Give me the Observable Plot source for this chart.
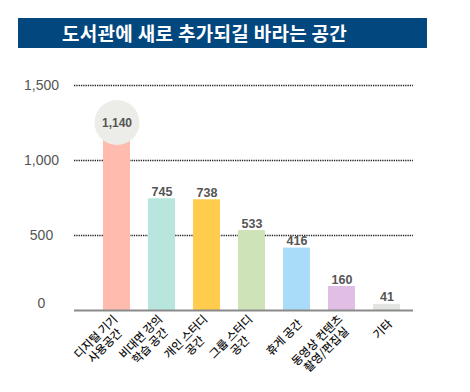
<!DOCTYPE html>
<html><head><meta charset="utf-8">
<script src="https://cdn.jsdelivr.net/npm/d3@7"></script>
<script src="https://cdn.jsdelivr.net/npm/@observablehq/plot@0.6"></script>
<style>
body{margin:0;background:#fff;width:470px;height:392px;overflow:hidden;font-family:"Liberation Sans",Arial,"Noto Sans CJK KR",sans-serif;}
#title{margin:18px 0 0 18px;width:409px;height:30px;background:#03477f;color:#fff;font-weight:bold;font-size:19px;font-family:"Noto Sans CJK KR",sans-serif;line-height:30px;padding-left:44px;box-sizing:border-box;letter-spacing:0.3px;white-space:nowrap;overflow:hidden}
#chart svg{display:block}
</style></head><body>
<div id="title">도서관에 새로 추가되길 바라는 공간</div>
<div id="chart"></div>
<script>
const categories = ["디지털 기기\n사용공간", "비대면 강의\n학습 공간", "개인 스터디\n공간", "그룹 스터디\n공간", "휴게 공간", "동영상 컨텐츠\n촬영/편집실", "기타"];
const values = [1140, 745, 738, 533, 416, 160, 41];
const colors = ["#ffbcae", "#b8e6df", "#ffcc4d", "#cfe3b8", "#a8dcf8", "#e1bfe5", "#e2e5e1"];
const yTicks = [0, 500, 1000, 1500];
const highlight = "디지털 기기\n사용공간";

const data = categories.map((c, i) => ({cat: c, value: values[i], color: colors[i]}));
const fmt = d3.format(",");
const KR = "'Noto Sans CJK KR', sans-serif";
const NUM = "'Liberation Sans', Arial, sans-serif";

const ctx = document.createElement("canvas").getContext("2d");
ctx.font = "500 11.5px 'Noto Sans CJK KR'";
const lineWidth = s => Math.max(...s.split("\n").map(l => ctx.measureText(l).width));

const labelMarks = data.map(d => {
  const w = lineWidth(d.cat);
  return Plot.text([d], {
    x: "cat", y: () => 0, text: "cat", rotate: -45,
    textAnchor: "middle", lineAnchor: "middle", lineHeight: 1.12,
    fontSize: 11.5, fontWeight: 500, fontFamily: KR, fill: "#111",
    dx: 3 - 0.354 * w, dy: 11 + 0.354 * w
  });
});

const chart = Plot.plot({
  width: 470, height: 344,
  marginLeft: 74, marginRight: 57, marginTop: 37, marginBottom: 82,
  x: {domain: categories, range: [91, 411.6], paddingInner: 0.39, paddingOuter: 0.195, axis: null},
  y: {domain: [0, 1500], axis: null},
  style: {fontFamily: NUM, background: "transparent"},
  marks: [
    Plot.ruleY(yTicks.filter(v => v > 0), {stroke: "#222", strokeWidth: 1.3, strokeDasharray: "1.3,1"}),
    Plot.barY(data, {x: "cat", y: "value", fill: "color"}),
    Plot.ruleY([0], {stroke: "#8a8a8a", strokeWidth: 2}),
    Plot.dot(data.filter(d => d.cat === highlight), {x: "cat", y: "value", r: 22.5, fill: "#ecece8", dy: -17, style: {mixBlendMode: "multiply"}}),
    Plot.text(data.filter(d => d.cat === highlight), {x: "cat", y: "value", text: d => fmt(d.value), dy: -16, fontSize: 12, fontWeight: "bold", fill: "#555", fontFamily: NUM}),
    Plot.text(data.filter(d => d.cat !== highlight), {x: "cat", y: "value", text: d => fmt(d.value), dy: -7, fontSize: 12.5, fontWeight: "bold", fill: "#555", fontFamily: NUM}),
    Plot.text(yTicks.filter(v => v > 0), {y: d => d, text: d => fmt(d), frameAnchor: "left", dx: -33, textAnchor: "middle", fontSize: 14, letterSpacing: "-0.8px", fill: "#555", fontFamily: NUM}),
    Plot.text(yTicks.filter(v => v === 0), {y: d => d, text: d => fmt(d), frameAnchor: "left", dx: -33, dy: -7, textAnchor: "middle", fontSize: 14, fill: "#555", fontFamily: NUM}),
    ...labelMarks
  ]
});
document.getElementById("chart").appendChild(chart);
</script>
</body></html>
